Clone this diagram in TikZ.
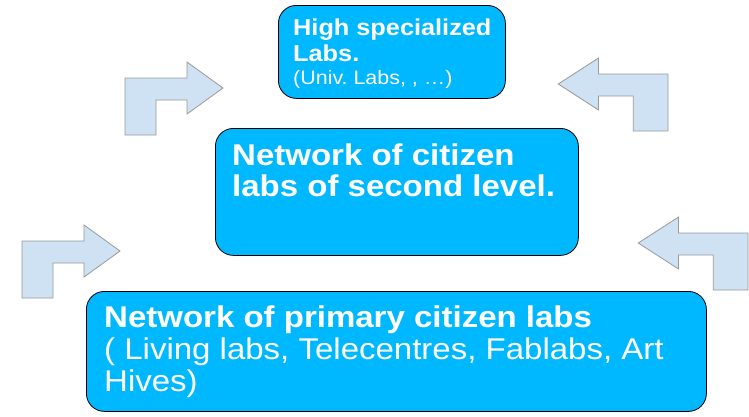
\documentclass[tikz,border=0pt]{standalone}
\usepackage{fontspec}
\setmainfont{Liberation Sans}[FakeStretch=1.1]
\usetikzlibrary{positioning}

\definecolor{labblue}{HTML}{00B8FF}
\definecolor{arrowblue}{HTML}{CFE2F3}
\definecolor{arrowline}{HTML}{999999}

\tikzset{
  bentarrow/.pic={
    \draw[fill=arrowblue,draw=arrowline,line width=.8pt]
      (0,0) -- (0,-57) -- (62,-57) -- (62,-73) -- (98,-47) -- (62,-21)
      -- (62,-35) -- (31,-35) -- (31,0) -- cycle;
  }
}

\begin{document}
\frenchspacing
\begin{tikzpicture}[x=1pt,y=-1pt,
    labbox/.style={draw=black,line width=.8pt,fill=labblue,rounded corners=18pt,anchor=north west},
    labtext/.style={text=white,align=left,inner sep=0pt,anchor=north west}]
  \useasboundingbox (0,0) rectangle (749,416);

  % bent arrows
  \pic (arrowtl) at (125,135) {bentarrow};
  \pic (arrowbl) at (22,298) {bentarrow};
  \pic[xscale=-1.12] (arrowtr) at (668,131) {bentarrow};
  \pic[xscale=-1.12] (arrowbr) at (748,290) {bentarrow};

  % boxes
  \node[labbox,minimum width=227pt,minimum height=93pt] (high) at (278,5) {};
  \node[labbox,minimum width=363pt,minimum height=127pt] (second) at (215,128) {};
  \node[labbox,minimum width=620pt,minimum height=120pt] (primary) at (86,291) {};

  % texts
  \node[labtext,font=\bfseries\fontsize{23}{26}\selectfont,below right=14pt and 15pt of high.north west] (hightext)
    {High specialized\\ Labs.\\[-3pt] {\mdseries\fontsize{19.5}{23}\selectfont (Univ. Labs, , …)}};
  \node[labtext,font=\bfseries\fontsize{30}{31}\selectfont,below right=16pt and 17pt of second.north west] (secondtext)
    {Network of citizen\\ labs of second level.};
  \node[labtext,font=\fontsize{30}{32}\selectfont,below right=15pt and 18pt of primary.north west] (primarytext)
    {{\bfseries Network of primary citizen labs}\\ ( Living labs, Telecentres, Fablabs, Art\\ Hives)};
\end{tikzpicture}
\end{document}
